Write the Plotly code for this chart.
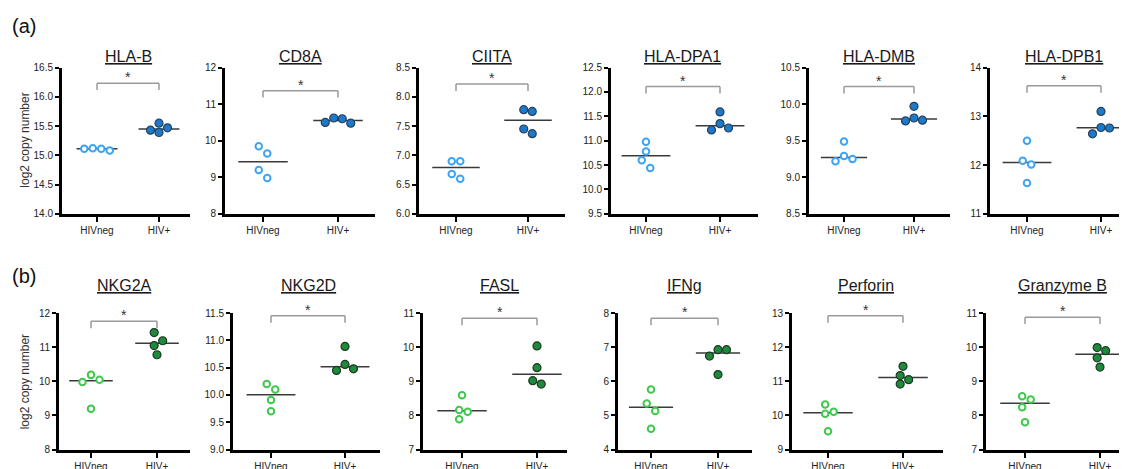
import plotly.graph_objects as go

# ---------------- data ----------------
groups = ["HIVneg", "HIV+"]

# panel (a)
hla_b_neg = [15.12, 15.08, 15.11, 15.11]
hla_b_pos = [15.47, 15.55, 15.39, 15.43]
cd8a_neg = [9.85, 9.65, 9.20, 8.98]
cd8a_pos = [10.60, 10.48, 10.50, 10.62]
ciita_neg = [6.90, 6.90, 6.68, 6.60]
ciita_pos = [7.78, 7.75, 7.45, 7.37]
hla_dpa1_neg = [10.98, 10.78, 10.60, 10.44]
hla_dpa1_pos = [11.59, 11.35, 11.22, 11.26]
hla_dmb_neg = [9.49, 9.29, 9.22, 9.25]
hla_dmb_pos = [9.97, 9.81, 9.77, 9.78]
hla_dpb1_neg = [12.50, 12.09, 12.01, 11.63]
hla_dpb1_pos = [13.10, 12.77, 12.64, 12.76]

# panel (b)
nkg2a_neg = [10.05, 9.98, 10.19, 9.20]
nkg2a_pos = [11.43, 11.19, 11.05, 10.78]
nkg2d_neg = [10.20, 10.10, 9.91, 9.70]
nkg2d_pos = [10.89, 10.56, 10.45, 10.48]
fasl_neg = [8.59, 8.16, 8.11, 7.89]
fasl_pos = [10.04, 9.40, 9.02, 8.92]
ifng_neg = [5.76, 5.35, 5.13, 4.61]
ifng_pos = [6.93, 6.93, 6.74, 6.20]
perforin_neg = [10.32, 10.11, 10.05, 9.54]
perforin_pos = [11.44, 11.17, 11.05, 10.92]
gzmb_neg = [8.56, 8.47, 8.24, 7.80]
gzmb_pos = [9.99, 9.90, 9.69, 9.42]

# (title, HIVneg, HIV+, y-range, tick step, tick format)
panels = [
    ("HLA-B", hla_b_neg, hla_b_pos, (14.0, 16.5), 0.5, ".1f"),
    ("CD8A", cd8a_neg, cd8a_pos, (8, 12), 1, "d"),
    ("CIITA", ciita_neg, ciita_pos, (6.0, 8.5), 0.5, ".1f"),
    ("HLA-DPA1", hla_dpa1_neg, hla_dpa1_pos, (9.5, 12.5), 0.5, ".1f"),
    ("HLA-DMB", hla_dmb_neg, hla_dmb_pos, (8.5, 10.5), 0.5, ".1f"),
    ("HLA-DPB1", hla_dpb1_neg, hla_dpb1_pos, (11, 14), 1, "d"),
    ("NKG2A", nkg2a_neg, nkg2a_pos, (8, 12), 1, "d"),
    ("NKG2D", nkg2d_neg, nkg2d_pos, (9.0, 11.5), 0.5, ".1f"),
    ("FASL", fasl_neg, fasl_pos, (7, 11), 1, "d"),
    ("IFNg", ifng_neg, ifng_pos, (4, 8), 1, "d"),
    ("Perforin", perforin_neg, perforin_pos, (9, 13), 1, "d"),
    ("Granzyme B", gzmb_neg, gzmb_pos, (7, 11), 1, "d"),
]

# ---------------- layout (screen pixels; page has an 8px body margin) ----------------
W, H = 1127, 469
OFF = 8
ROW_Y = [(63, 213), (315, 455)]          # top, bottom of plot area
TITLE_Y = [52, 287]
YLAB_Y = [138, 386]
TAG_Y = [20, 277]
# axis-left, tick HIVneg, tick HIV+, axis-right
XPIX = [
    (62, 97, 159, 190), (225, 263, 338, 375), (419, 456, 528, 565),
    (611, 646, 720, 758), (809, 844, 914, 950), (990, 1027, 1101, 1135),
    (59, 91, 157, 190), (233, 271, 345, 380), (423, 462, 537, 567),
    (618, 651, 718, 752), (792, 828, 903, 943), (986, 1025, 1100, 1135),
]
BRACKET_TOP = [0.107, 0.158, 0.113, 0.13, 0.13, 0.125,
               0.06, 0.02, 0.038, 0.038, 0.02, 0.03]

COL = [
    dict(neg="#3DA4F2", pos="#1D79C9", posline="#27415C"),
    dict(neg="#3EC94E", pos="#1F8A3B", posline="#1D3A24"),
]
FONT = "Arial, Liberation Sans, Helvetica, sans-serif"
MARK_D = 8.5


def px_x(s):
    return (s - OFF) / W


def px_y(s):
    return 1 - (s - OFF) / H


def swarm(vals, ylo, yhi, hpx, ppu, d=MARK_D):
    py = [(v - ylo) / (yhi - ylo) * hpx for v in vals]
    order = sorted(range(len(vals)), key=lambda k: -vals[k])
    placed = {}
    for k in order:
        for step in [0, 1, -1, 2, -2, 3, -3, 4, -4]:
            ox = step * d
            if all((ox - placed[j]) ** 2 + (py[k] - py[j]) ** 2 >= d * d for j in placed):
                placed[k] = ox
                break
    parent = list(range(len(vals)))

    def find(a):
        while parent[a] != a:
            a = parent[a]
        return a
    for a in range(len(vals)):
        for b in range(a + 1, len(vals)):
            if abs(py[a] - py[b]) < d:
                parent[find(a)] = find(b)
    clusters = {}
    for a in range(len(vals)):
        clusters.setdefault(find(a), []).append(a)
    for mem in clusters.values():
        m = sum(placed[a] for a in mem) / len(mem)
        for a in mem:
            placed[a] -= m
    return [placed[k] / ppu for k in range(len(vals))]


def median(v):
    s = sorted(v)
    n = len(s)
    return s[n // 2] if n % 2 else (s[n // 2 - 1] + s[n // 2]) / 2


fig = go.Figure()
shapes, annotations = [], []

for i, (title, neg, pos, yr, dt, fmt) in enumerate(panels):
    n = i + 1
    row = 0 if i < 6 else 1
    c = COL[row]
    xk = "x" if n == 1 else f"x{n}"
    yk = "y" if n == 1 else f"y{n}"
    al, t1, t2, ar = XPIX[i]
    sp = t2 - t1
    top, bot = ROW_Y[row]
    hpx = bot - top
    dom_x = [px_x(al), min(px_x(ar), 1.0)]
    ar_eff = dom_x[1] * W + OFF
    xr = [1 - (t1 - al) / sp, 2 + (ar_eff - t2) / sp]
    dom_y = [px_y(bot), px_y(top)]

    for gi, (vals, kind) in enumerate([(neg, "neg"), (pos, "pos")]):
        xc = gi + 1
        offs = swarm(vals, yr[0], yr[1], hpx, sp)
        med = median(vals)
        shapes.append(dict(type="line", xref=xk, yref=yk, x0=xc - 0.33, x1=xc + 0.33,
                           y0=med, y1=med, line=dict(color="#3a3a3a", width=1.5), layer="below"))
        if kind == "neg":
            marker = dict(symbol="circle", size=MARK_D - 2, color="white",
                          line=dict(color=c["neg"], width=2))
        else:
            marker = dict(symbol="circle", size=MARK_D - 0.5, color=c["pos"],
                          line=dict(color=c["posline"], width=1.2))
        fig.add_trace(go.Scatter(x=[xc + o for o in offs], y=vals, mode="markers",
                                 marker=marker, xaxis=xk, yaxis=yk, showlegend=False,
                                 hoverinfo="y"))

    fig.layout[("xaxis" if n == 1 else f"xaxis{n}")] = dict(
        domain=dom_x, range=xr, anchor=yk, showgrid=False, zeroline=False,
        showline=True, linecolor="black", linewidth=3,
        tickvals=[1, 2], ticktext=groups, ticks="outside", ticklen=5, tickwidth=2,
        tickcolor="black", tickfont=dict(family=FONT, size=10, color="#222"), fixedrange=True)
    fig.layout[("yaxis" if n == 1 else f"yaxis{n}")] = dict(
        domain=dom_y, range=list(yr), anchor=xk, showgrid=False, zeroline=False,
        showline=True, linecolor="black", linewidth=3,
        tick0=yr[0], dtick=dt, tickformat=fmt, ticks="outside", ticklen=4, tickwidth=2,
        tickcolor="black", tickfont=dict(family=FONT, size=10, color="#222"), fixedrange=True)

    # significance bracket
    bt = 1 - BRACKET_TOP[i]
    leg = 7 / hpx
    bl = dict(color="#9a9a9a", width=1.5)
    shapes.append(dict(type="line", xref=xk, yref=f"{yk} domain", x0=1, x1=2, y0=bt, y1=bt, line=bl))
    shapes.append(dict(type="line", xref=xk, yref=f"{yk} domain", x0=1, x1=1, y0=bt, y1=bt - leg, line=bl))
    shapes.append(dict(type="line", xref=xk, yref=f"{yk} domain", x0=2, x1=2, y0=bt, y1=bt - leg, line=bl))
    annotations.append(dict(text="*", xref=xk, yref=f"{yk} domain", x=1.5, y=bt,
                            yanchor="bottom", showarrow=False, yshift=-4,
                            font=dict(family=FONT, size=14, color="#333")))
    # panel title
    annotations.append(dict(text=f"<u>{title}</u>", xref=xk, yref="paper", x=1.5,
                            y=px_y(TITLE_Y[row]), yanchor="middle", showarrow=False,
                            font=dict(family=FONT, size=16, color="#1a1a1a")))

for row, lab in enumerate(["(a)", "(b)"]):
    annotations.append(dict(text=lab, xref="paper", yref="paper", x=px_x(10),
                            y=px_y(TAG_Y[row]), xanchor="left", yanchor="middle",
                            showarrow=False, font=dict(family=FONT, size=20, color="#111")))
    annotations.append(dict(text="log2 copy number", xref="paper", yref="paper", x=px_x(25),
                            y=px_y(YLAB_Y[row]), xanchor="center", yanchor="middle",
                            textangle=-90, showarrow=False,
                            font=dict(family=FONT, size=12, color="#333")))

fig.update_layout(width=W, height=H, margin=dict(l=0, r=0, t=0, b=0),
                  paper_bgcolor="white", plot_bgcolor="white",
                  shapes=shapes, annotations=annotations, showlegend=False)

fig.write_html("out.html")
